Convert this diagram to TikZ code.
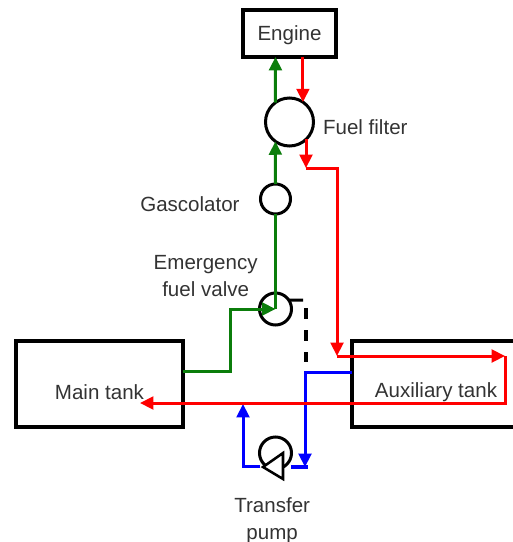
\documentclass[tikz,border=0pt]{standalone}
\usepackage{fontspec}
\setmainfont{Liberation Sans}
\usepackage{xcolor}
\usetikzlibrary{arrows.meta, positioning}
\definecolor{fuelgreen}{HTML}{0B7D0B}
\definecolor{fuelred}{HTML}{FF0000}
\definecolor{fuelblue}{HTML}{0000FF}
\definecolor{ink}{HTML}{333333}
\tikzset{
  tank/.style={rectangle, draw=black, line width=3pt, fill=white, outer sep=0pt, minimum width=125.25pt, minimum height=64.5pt},
  comp/.style={circle, draw=black, line width=2.25pt, fill=white, outer sep=0pt, inner sep=0pt},
  lbl/.style={align=center, text=ink, inner sep=0pt, font=\fontsize{15.4pt}{20.25pt}\selectfont},
  arr/.style={-{Triangle[length=10pt, width=9.5pt]}, line width=2.25pt},
  feed/.style={arr, fuelgreen},
  back/.style={arr, fuelred},
  xfer/.style={arr, fuelblue},
}
\begin{document}
\begin{tikzpicture}[x=0.75pt, y=-0.75pt]
\useasboundingbox (0,0) rectangle (512,542);
\node[tank, minimum width=69.75pt, minimum height=35.25pt] (engine) at (289.5,33.5) {};
\node[lbl] (enginelbl) at ([yshift=-1.5pt]engine.center) {Engine};
\node[comp, minimum size=36pt, below=30.75pt of engine] (filter) {};
\node[comp, minimum size=22.5pt, below=28.5pt of filter, xshift=-10.5pt] (gasc) {};
\node[comp, minimum size=24pt, below=59.25pt of gasc] (valve) {};
\node[comp, minimum size=24pt, below=84pt of valve] (pump) {};
\node[tank, left=57.4pt of valve, yshift=-56.25pt] (main) {};
\node[tank, right=45.4pt of valve, yshift=-56.25pt, minimum width=126pt] (aux) {};
\node[lbl] (mainlbl) at ([yshift=-6pt]main.center) {Main tank};
\node[lbl] (auxlbl) at ([yshift=-6pt]aux.center) {Auxiliary tank};
\node[lbl, right=7pt of filter, yshift=-3.75pt] (filterlbl) {Fuel filter};
\node[lbl, left=15.5pt of gasc, yshift=-3.75pt] (gasclbl) {Gascolator};
\node[lbl, above left=7pt and 1pt of valve.north west, xshift=-3.75pt, yshift=-6.5pt] (valvelbl) {Emergency\\fuel valve};
\node[lbl, below=21pt of pump, xshift=-2.5pt] (pumplbl) {Transfer\\pump};

\coordinate (gbend) at (230,371);
\coordinate (gtop) at (230,309);
\coordinate (rout) at (306,139);
\coordinate (rmid) at (306,168);
\coordinate (rbend) at (337,168);
\coordinate (rlow) at (337,356);
\coordinate (rfar) at (505,356);
\coordinate (rdrop) at (505,403);
\coordinate (rtip) at (140,403);
\coordinate (btop) at (305,372);
\coordinate (blow) at (305,467);
\coordinate (bleft) at (243,466);
\coordinate (btip) at (243,404);
\coordinate (lever) at (303,300);
\coordinate (dashtop) at (306,308);
\coordinate (dashend) at (306,362);

\draw[feed] (main.east |- gbend) -- (gbend) -- (gtop) -- (valve.center);
\draw[line width=2.25pt, fuelgreen] (valve.center) -- (gasc.south);
\draw[feed] (gasc.north) -- (filter.234);
\draw[feed] (filter.126) -- (gasc.north |- engine.south);

\draw[xfer] (aux.west |- btop) -- (btop) -- (blow);
\draw[line width=3pt, fuelblue] (291,467) -- (308,467);
\draw[xfer] (pump.west |- bleft) -- (bleft) -- (btip);

\draw[back] (filter.56 |- engine.south) -- (filter.56);
\draw[back] (rout) -- (rmid);
\draw[line width=2.25pt, fuelred] (rmid) -- (rbend) -- ++(0,5);
\draw[back] (rbend) -- (rlow);
\draw[back] (rlow) -- (rfar);
\draw[back] (rfar) -- (rdrop) -- (rtip);

\draw[line width=2.25pt] (valve.34) -- (lever);
\draw[line width=3pt, dash pattern=on 8.25pt off 8.25pt] (dashtop) -- (dashend);

\draw[line width=1.9pt, fill=white, line join=miter] ([shift={(-12.5,14)}]pump.center) -- ([shift={(7.5,0)}]pump.center) -- ([shift={(7.5,26)}]pump.center) -- cycle;
\end{tikzpicture}
\end{document}
